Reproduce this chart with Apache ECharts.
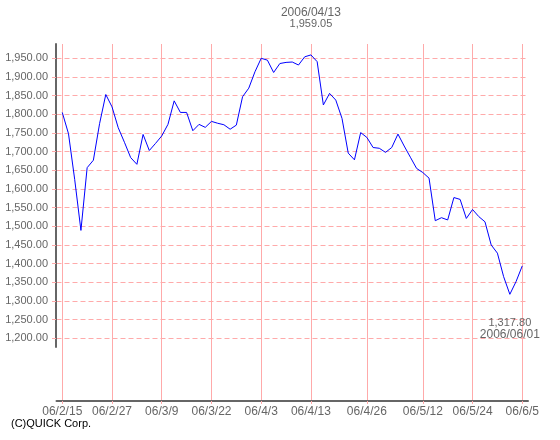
<!DOCTYPE html>
<html><head><meta charset="utf-8">
<script src="https://cdn.jsdelivr.net/npm/echarts@6/dist/echarts.min.js"></script>
<style>html,body{margin:0;padding:0;background:#fff}#c{width:560px;height:440px}</style>
</head><body><div id="c"></div>
<script>
// trading-day categories (x axis)
const dates = [
 '06/2/15','06/2/16','06/2/17','06/2/20','06/2/21','06/2/22','06/2/23','06/2/24','06/2/27','06/2/28',
 '06/3/1','06/3/2','06/3/3','06/3/6','06/3/7','06/3/8','06/3/9','06/3/10','06/3/13','06/3/14',
 '06/3/15','06/3/16','06/3/17','06/3/20','06/3/22','06/3/23','06/3/24','06/3/27','06/3/28','06/3/29',
 '06/3/30','06/3/31','06/4/3','06/4/4','06/4/5','06/4/6','06/4/7','06/4/10','06/4/11','06/4/12',
 '06/4/13','06/4/14','06/4/17','06/4/18','06/4/19','06/4/20','06/4/21','06/4/24','06/4/25','06/4/26',
 '06/4/27','06/4/28','06/5/1','06/5/2','06/5/8','06/5/9','06/5/10','06/5/11','06/5/12','06/5/15',
 '06/5/16','06/5/17','06/5/18','06/5/19','06/5/22','06/5/23','06/5/24','06/5/25','06/5/26','06/5/29',
 '06/5/30','06/5/31','06/6/1','06/6/2','06/6/5'
];
// index values
const values = [
 1805,1748,1625,1489,1657,1677,1775,1853,1820,1764,
 1725,1684,1666,1746,1703,1722,1742,1773,1836,1805,
 1805,1756,1773,1765,1781,1776,1772,1760,1771,1847,
 1870,1914,1950,1945,1912,1936,1939,1940,1932,1954,
 1959.05,1941,1825,1856,1838,1789,1696,1678,1751,1738,
 1711,1709,1698,1711,1747,1715,1685,1655,1644,1629,
 1515,1523,1517,1577,1572,1521,1545,1526,1512,1450,
 1428,1365,1317.80,1352,1394
];
// positions (category indices) of the labelled x ticks
const xTickIndex = [0,8,16,24,32,40,49,58,66,74];
// y tick labels
const yTicks = [1200,1250,1300,1350,1400,1450,1500,1550,1600,1650,1700,1750,1800,1850,1900,1950];
const copyright = '(C)QUICK Corp.';

const FONT = 'Liberation Sans';
const PINK = '#ffaaaa';
const AXIS = '#666666';
const TXT = '#666666';

const points = values.map((v, i) => [i, v]);
let maxI = 0, minI = 0;
values.forEach((v, i) => { if (v > values[maxI]) maxI = i; if (v < values[minI]) minI = i; });
const fmtNum = v => v.toLocaleString('en-US', {minimumFractionDigits: 2, maximumFractionDigits: 2});
const fullDate = s => { const p = s.split('/'); return '20' + p[0] + '/' + p[1].padStart(2, '0') + '/' + p[2].padStart(2, '0'); };

const chart = echarts.init(document.getElementById('c'), null, {renderer: 'canvas'});
chart.setOption({
  animation: false,
  backgroundColor: '#ffffff',
  grid: [
    {left: 56.5, right: 32, top: 44, bottom: 39},
    {left: 56, top: 44, bottom: 93, width: 1}
  ],
  xAxis: [
    {
      gridIndex: 0, type: 'value', min: -0.93, max: 74.92,
      axisLine: {show: true, onZero: false, lineStyle: {color: AXIS, width: 2}},
      axisTick: {show: true, customValues: xTickIndex, length: 3, lineStyle: {color: PINK}},
      axisLabel: {show: true, customValues: xTickIndex, formatter: v => dates[Math.round(v)],
        color: TXT, fontFamily: FONT, fontSize: 12, margin: 5, showMinLabel: true, showMaxLabel: true, hideOverlap: false},
      splitLine: {show: true, lineStyle: {color: PINK, width: 1, type: 'solid'}}
    },
    {gridIndex: 1, type: 'value', min: 0, max: 1, show: false}
  ],
  yAxis: [
    {
      gridIndex: 0, type: 'value', min: 1032, max: 1988.3,
      axisLine: {show: false},
      axisTick: {show: false, customValues: yTicks},
      axisLabel: {show: false, customValues: yTicks},
      splitLine: {show: true, lineStyle: {color: PINK, width: 1, type: [5, 3]}}
    },
    {
      gridIndex: 1, type: 'value', min: 1176.7, max: 1988.3,
      axisLine: {show: true, onZero: false, lineStyle: {color: AXIS, width: 2}},
      axisTick: {show: true, customValues: yTicks, length: 4, lineStyle: {color: PINK}},
      axisLabel: {show: true, customValues: yTicks, formatter: v => fmtNum(v),
        color: TXT, fontFamily: FONT, fontSize: 11, margin: 8},
      splitLine: {show: false}
    }
  ],
  series: [{
    type: 'line', xAxisIndex: 0, yAxisIndex: 0,
    data: points, symbol: 'none', showSymbol: false,
    lineStyle: {color: '#0000ff', width: 1},
    z: 5,
    markPoint: {
      symbol: 'circle', symbolSize: 1, itemStyle: {color: 'rgba(0,0,0,0)'},
      silent: true,
      label: {show: true, color: TXT, fontFamily: FONT,
        rich: {
          dt: {fontSize: 12, lineHeight: 11, color: TXT, fontFamily: FONT, align: 'center'},
          num: {fontSize: 11, lineHeight: 11, color: TXT, fontFamily: FONT, align: 'center'}
        }},
      data: [
        {coord: [maxI, values[maxI]], label: {position: 'top', distance: 25,
          formatter: () => '{dt|' + fullDate(dates[maxI]) + '}\n{num|' + fmtNum(values[maxI]) + '}'}},
        {coord: [minI, values[minI]], label: {position: 'bottom', distance: 23,
          formatter: () => '{num|' + fmtNum(values[minI]) + '}\n{dt|' + fullDate(dates[minI]) + '}'}}
      ]
    }
  }],
  graphic: [{
    type: 'text', left: 11, top: 418,
    style: {text: copyright, fill: '#000000', font: '11px "Liberation Sans"'}
  }]
});
</script>
</body></html>
